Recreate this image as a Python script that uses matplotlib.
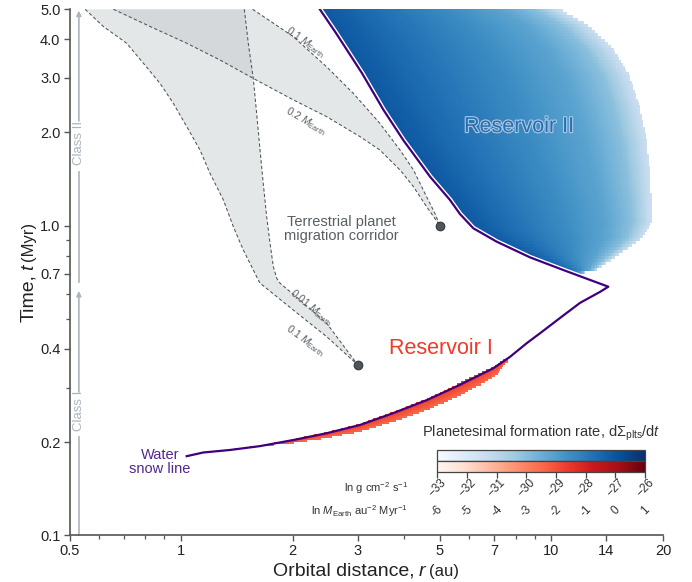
import numpy as np
import matplotlib
matplotlib.use("Agg")
import matplotlib.pyplot as plt
import matplotlib.colors as mcolors
import matplotlib.colorbar as mcolorbar
import matplotlib.patheffects as pe
import matplotlib.transforms as mtransforms
from matplotlib.ticker import FixedLocator, FixedFormatter, NullFormatter

plt.rcParams["font.family"] = ["Liberation Sans", "DejaVu Sans"]
plt.rcParams["mathtext.fontset"] = "custom"
plt.rcParams["mathtext.rm"] = "Liberation Sans"
plt.rcParams["mathtext.it"] = "Liberation Sans:italic"
plt.rcParams["mathtext.bf"] = "Liberation Sans:bold"
plt.rcParams["mathtext.sf"] = "Liberation Sans"

# ---------------- data ----------------
# Water snow line: inner branch moving outwards, then outer branch moving back in
snow_r = [1.036, 1.148, 1.356, 1.634, 2.009, 2.472, 3.04, 3.74, 4.60, 5.66, 6.96,
          7.73, 8.57, 9.31, 10.54, 11.94, 13.52, 14.24,
          12.7, 10.76, 8.75, 7.11, 6.15, 5.66, 5.32, 4.70, 3.98, 3.52, 3.08, 2.62, 2.37]
snow_t = [0.180, 0.185, 0.1885, 0.194, 0.203, 0.2135, 0.227, 0.248, 0.273, 0.306, 0.346,
          0.377, 0.417, 0.449, 0.503, 0.563, 0.611, 0.635,
          0.668, 0.719, 0.790, 0.888, 0.981, 1.091, 1.211, 1.44, 1.89, 2.365, 3.108, 4.19, 5.0]
snow_turn = 17

# Reservoir I: lower edge of the formation band below the snow line
res1_r = [1.33, 1.63, 2.01, 2.47, 3.04, 3.74, 4.60, 5.32, 6.02, 6.68, 7.11, 7.41, 7.60]
res1_t_low = [0.1875, 0.1932, 0.1982, 0.2056, 0.216, 0.2326, 0.2538, 0.2734, 0.2945,
              0.3133, 0.3293, 0.3487, 0.3636]
res1_rate_edge = -28.7
res1_rate_base = -29.5

# Reservoir II: outer edge of the formation region and rate profile across it
res2_outer_t = [0.700, 0.705, 0.719, 0.785, 0.854, 0.92, 1.028, 1.211, 1.55, 1.89,
                2.42, 3.03, 3.70, 4.40, 5.0]
res2_outer_r = [11.4, 12.2, 13.2, 14.7, 16.3, 17.7, 18.6, 18.6, 18.4, 18.1,
                17.3, 16.3, 14.7, 12.7, 10.5]
res2_profile_pos = [0.0, 0.25, 0.5, 0.75, 0.9, 1.0]
res2_profile_rate = [-27.05, -27.75, -28.38, -29.15, -30.06, -31.46]

# Terrestrial planet migration corridors (tracks for given planet masses)
corr_hi_02_r = [0.657, 0.825, 1.036, 1.274, 1.567, 2.009, 2.472, 3.04, 3.44, 3.90, 4.24, 4.60, 5.0]
corr_hi_02_t = [5.0, 4.40, 3.885, 3.43, 2.99, 2.55, 2.25, 1.94, 1.756, 1.514, 1.337, 1.152, 1.0]
corr_hi_01_r = [1.561, 1.775, 2.009, 2.472, 2.916, 3.44, 3.90, 4.24, 4.60, 4.845, 5.0]
corr_hi_01_t = [5.0, 4.51, 4.08, 3.26, 2.678, 2.142, 1.756, 1.514, 1.241, 1.096, 1.0]
corr_lo_01_r = [0.551, 0.617, 0.713, 0.791, 0.877, 0.953, 1.036, 1.125, 1.197, 1.301,
                1.384, 1.472, 1.535, 1.60, 1.634, 2.009, 2.472, 3.0]
corr_lo_01_t = [5.0, 4.40, 3.885, 3.35, 2.885, 2.486, 2.09, 1.756, 1.477, 1.211,
                0.993, 0.835, 0.756, 0.684, 0.652, 0.534, 0.438, 0.355]
corr_lo_001_r = [1.482, 1.519, 1.567, 1.60, 1.634, 1.667, 1.703, 1.739, 1.775, 1.813,
                 1.850, 2.095, 2.472, 3.0]
corr_lo_001_t = [5.0, 3.885, 2.99, 2.308, 1.756, 1.371, 1.069, 0.877, 0.737, 0.676,
                 0.652, 0.575, 0.484, 0.355]
end_r = [5.0, 3.0]
end_t = [1.0, 0.355]

# axis ticks
x_major = [0.5, 1, 2, 3, 5, 7, 10, 14, 20]
x_major_labels = ["0.5", "1", "2", "3", "5", "7", "10", "14", "20"]
x_minor = [0.6, 0.7, 0.8, 0.9, 4, 6, 8, 9]
y_major = [0.1, 0.2, 0.4, 0.7, 1.0, 2.0, 3.0, 4.0, 5.0]
y_major_labels = ["0.1", "0.2", "0.4", "0.7", "1.0", "2.0", "3.0", "4.0", "5.0"]
y_minor = [0.3, 0.5, 0.6, 0.8, 0.9]

# colour bar scales
cbar_ticks_cgs = [-33, -32, -31, -30, -29, -28, -27, -26]
cbar_labels_cgs = ["\u221233", "\u221232", "\u221231", "\u221230", "\u221229", "\u221228", "\u221227", "\u221226"]
cbar_labels_au = ["-6", "-5", "-4", "-3", "-2", "-1", "0", "1"]

# ---------------- figure ----------------
W, H = 692, 582
fig = plt.figure(figsize=(W / 100, H / 100), dpi=100)
ax = fig.add_axes([69.5 / W, 1 - 535.2 / H, (663 - 69.5) / W, (535.2 - 9.3) / H])
ax.set_xscale("log")
ax.set_yscale("log")
ax.set_xlim(0.5, 20)
ax.set_ylim(0.1, 5.0)

norm = mcolors.Normalize(-33, -26)
blues = plt.get_cmap("Blues")
reds = plt.get_cmap("Reds")


def log_grid(nr, nt):
    re = np.geomspace(0.5, 20.0, nr + 1)
    te = np.geomspace(0.1, 5.0, nt + 1)
    R, T = np.meshgrid(np.sqrt(re[:-1] * re[1:]), np.sqrt(te[:-1] * te[1:]))
    return re, te, R, T


with np.errstate(divide="ignore", invalid="ignore"):
    # Reservoir II: between the outer branch of the snow line and the outer edge
    re2, te2, R, T = log_grid(420, 175)
    lr, lt = np.log(R), np.log(T)
    r_in = np.interp(lt, np.log(snow_t[snow_turn:]), np.log(snow_r[snow_turn:]))
    r_out = np.interp(lt, np.log(res2_outer_t), np.log(res2_outer_r))
    frac2 = (lr - r_in) / (r_out - r_in)
    inside2 = (T >= res2_outer_t[0]) & (frac2 >= 0) & (frac2 <= 1)
    Z2 = np.ma.masked_where(~inside2, np.interp(frac2, res2_profile_pos, res2_profile_rate))

    # Reservoir I: thin band just inside the inner branch of the snow line
    re1, te1, R, T = log_grid(420, 260)
    lr, lt = np.log(R), np.log(T)
    t_top = np.interp(lr, np.log(snow_r[:snow_turn + 1]), np.log(snow_t[:snow_turn + 1]))
    t_bot = np.interp(lr, np.log(res1_r), np.log(res1_t_low))
    frac1 = (t_top - lt) / (t_top - t_bot)
    inside1 = (R >= res1_r[0]) & (R <= res1_r[-1]) & (frac1 >= -0.15) & (frac1 <= 1)
    Z1 = np.ma.masked_where(~inside1, res1_rate_edge
                            + (res1_rate_base - res1_rate_edge) * np.clip(frac1, 0, 1))

ax.pcolormesh(re2, te2, Z2, cmap=blues, norm=norm, shading="flat", zorder=2)
ax.pcolormesh(re1, te1, Z1, cmap=reds, norm=norm, shading="flat", zorder=2)

# migration corridors
fill_kw = dict(color="#bcc3c6", alpha=0.4, lw=0, zorder=1)
ax.fill(corr_hi_02_r + corr_hi_01_r[::-1], corr_hi_02_t + corr_hi_01_t[::-1], **fill_kw)
ax.fill(corr_lo_01_r + corr_lo_001_r[::-1], corr_lo_01_t + corr_lo_001_t[::-1], **fill_kw)
dash_kw = dict(color="#4d5357", lw=0.75, ls=(0, (3.2, 2.2)), zorder=3)
for rr, tt in [(corr_hi_02_r, corr_hi_02_t), (corr_hi_01_r, corr_hi_01_t),
               (corr_lo_01_r, corr_lo_01_t), (corr_lo_001_r, corr_lo_001_t)]:
    ax.plot(rr, tt, **dash_kw)
ax.plot(end_r, end_t, "o", ms=6.2, color="#4f5558", mec="#33383b", mew=0.8, zorder=5)

# snow line
ax.plot(snow_r[snow_turn:], snow_t[snow_turn:], color="white", lw=3.6,
        solid_capstyle="round", zorder=3)
ax.plot(snow_r, snow_t, color="#3f007d", lw=1.6, solid_joinstyle="round", zorder=4)

# corridor mass labels
lab_kw = dict(color="#555c60", fontsize=7.5, ha="center", va="center", zorder=6,
              rotation_mode="anchor")
ax.text(2.16, 3.92, r"0.1 $M_{\mathrm{Earth}}$", rotation=-35, **lab_kw)
ax.text(2.17, 2.17, r"0.2 $M_{\mathrm{Earth}}$", rotation=-30, **lab_kw)
ax.text(2.24, 0.542, r"0.01 $M_{\mathrm{Earth}}$", rotation=-39, **lab_kw)
ax.text(2.17, 0.424, r"0.1 $M_{\mathrm{Earth}}$", rotation=-36, **lab_kw)

ax.text(2.715, 0.974, "Terrestrial planet\nmigration corridor", color="#585f63",
        fontsize=10.5, ha="center", va="center", linespacing=1.05, zorder=6)
ax.text(5.02, 0.402, "Reservoir I", color="#ef3b2c", fontsize=15.5,
        ha="center", va="center", zorder=6)
ax.text(8.17, 2.09, "Reservoir II", color="#2b6cae", fontsize=15.5,
        ha="center", va="center", zorder=6,
        path_effects=[pe.Stroke(linewidth=1.6, foreground="#a9cbe8"), pe.Normal()])
ax.text(0.878, 0.1718, "Water\nsnow line", color="#54278f", fontsize=10.5,
        ha="center", va="center", linespacing=1.0, zorder=6)

# YSO class arrows
cls_col = "#aab5bc"
cls_x = 0.530
ax.plot([cls_x, cls_x], [0.659, 1.49], color=cls_col, lw=1.2, zorder=2, clip_on=False)
ax.annotate("", xy=(cls_x, 4.95), xytext=(cls_x, 2.18),
            arrowprops=dict(arrowstyle="-|>", color=cls_col, lw=1.2, mutation_scale=7,
                            shrinkA=0, shrinkB=0), zorder=2)
ax.text(cls_x, 1.846, "Class II", rotation=90, color=cls_col, fontsize=9.5,
        ha="center", va="center")
ax.plot([cls_x, cls_x], [0.1, 0.2075], color=cls_col, lw=1.2, zorder=2, clip_on=False)
ax.annotate("", xy=(cls_x, 0.615), xytext=(cls_x, 0.29),
            arrowprops=dict(arrowstyle="-|>", color=cls_col, lw=1.2, mutation_scale=7,
                            shrinkA=0, shrinkB=0), zorder=2)
ax.text(cls_x, 0.252, "Class I", rotation=90, color=cls_col, fontsize=9.5,
        ha="center", va="center")

# axes styling
for side in ("top", "right"):
    ax.spines[side].set_visible(False)
for side in ("left", "bottom"):
    ax.spines[side].set_color("#555555")
    ax.spines[side].set_linewidth(1.2)
ax.xaxis.set_major_locator(FixedLocator(x_major))
ax.xaxis.set_major_formatter(FixedFormatter(x_major_labels))
ax.xaxis.set_minor_locator(FixedLocator(x_minor))
ax.xaxis.set_minor_formatter(NullFormatter())
ax.yaxis.set_major_locator(FixedLocator(y_major))
ax.yaxis.set_major_formatter(FixedFormatter(y_major_labels))
ax.yaxis.set_minor_locator(FixedLocator(y_minor))
ax.yaxis.set_minor_formatter(NullFormatter())
ax.tick_params(which="major", length=4.5, width=1.0, color="#555555",
               labelsize=10.5, labelcolor="#222222", pad=2)
ax.tick_params(which="minor", length=2.6, width=0.9, color="#555555")

# axis titles assembled from pieces of different size/style
renderer = fig.canvas.get_renderer()
ident = mtransforms.IdentityTransform()


def compose(parts, center, base, rotation):
    arts, lens = [], []
    for s, kw, gap in parts:
        a = fig.text(0, 0, s, transform=ident, rotation=rotation, rotation_mode="anchor",
                     ha="left", va="baseline", color="#222222", **kw)
        bb = a.get_window_extent(renderer)
        arts.append(a)
        lens.append((bb.width if rotation == 0 else bb.height) + gap)
    pos = center - sum(lens) / 2
    for a, l in zip(arts, lens):
        a.set_position((pos, base) if rotation == 0 else (base, pos))
        pos += l


compose([("Orbital distance,", dict(fontsize=14), 4.5),
         ("r", dict(fontsize=14, style="italic"), 4.0),
         ("(au)", dict(fontsize=12), 0)],
        center=366, base=H - 576, rotation=0)
compose([("Time,", dict(fontsize=14), 4.5),
         ("t", dict(fontsize=14, style="italic"), 4.0),
         ("(Myr)", dict(fontsize=12), 0)],
        center=H - 272, base=33, rotation=90)

# colour bar: two scales stacked
cb_left, cb_w = 437.3 / W, (645 - 437.3) / W
cax1 = fig.add_axes([cb_left, 1 - 461 / H, cb_w, 10.7 / H])
cax2 = fig.add_axes([cb_left, 1 - 471.7 / H, cb_w, 10.7 / H])
for cax, cmap in ((cax1, blues), (cax2, reds)):
    cb = mcolorbar.ColorbarBase(cax, cmap=cmap, norm=norm, orientation="horizontal")
    cb.outline.set_edgecolor("#444444")
    cb.outline.set_linewidth(0.9)
cax1.set_xticks([])
cax2.set_xticks(cbar_ticks_cgs)
cax2.set_xticklabels([])
cax2.tick_params(length=4, width=0.9, color="#444444", direction="out")
btf = mtransforms.blended_transform_factory(cax2.transData, fig.transFigure)
for v, l1, l2 in zip(cbar_ticks_cgs, cbar_labels_cgs, cbar_labels_au):
    fig.text(v, 1 - 488 / H, l1, transform=btf, rotation=45, ha="center", va="center",
             fontsize=8.5, color="#333333")
    fig.text(v, 1 - 511 / H, l2, transform=btf, rotation=45, ha="center", va="center",
             fontsize=8.5, color="#333333")
fig.text(408 / W, 1 - 488 / H, r"ln g cm$^{-2}$ s$^{-1}$", ha="right", va="center",
         fontsize=8, color="#333333")
fig.text(408 / W, 1 - 511 / H, r"ln $M_{\mathrm{Earth}}$ au$^{-2}$ Myr$^{-1}$",
         ha="right", va="center", fontsize=8, color="#333333")
fig.text(541 / W, 1 - 433 / H,
         r"Planetesimal formation rate, d$\Sigma_{\mathrm{plts}}$/d$t$",
         ha="center", va="center", fontsize=10.5, color="#333333")

fig.savefig("out.png", dpi=100)
